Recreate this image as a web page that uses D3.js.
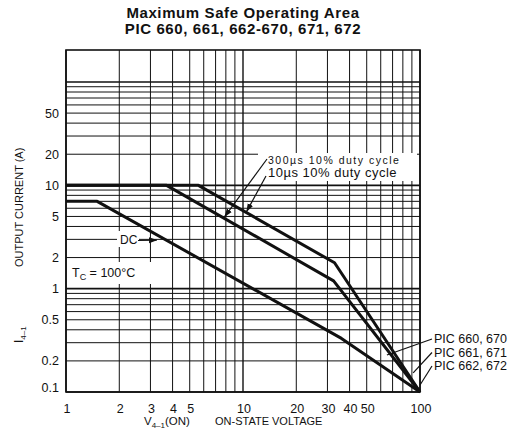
<!DOCTYPE html>
<html>
<head>
<meta charset="utf-8">
<script src="https://cdn.jsdelivr.net/npm/d3@7"></script>
<style>
  body { margin: 0; background: #fff; }
  svg { display: block; }
  text { font-family: "Liberation Sans", Arial, sans-serif; fill: #111; }
</style>
</head>
<body>
<svg id="chart" width="514" height="444"></svg>
<script>
// chart values
const titleLines = ["Maximum Safe Operating Area", "PIC 660, 661, 662-670, 671, 672"];
const xTickValues = [1, 2, 3, 4, 5, 10, 20, 30, 40, 50, 100];
const yTickValues = [0.1, 0.2, 0.5, 1, 2, 5, 10, 20, 50];

// DC and pulse limits (volts, amps)
const dcVolts = [1, 1.5, 36, 100];
const dcAmps = [7, 7, 0.33, 0.1];
const pulse300Volts = [1, 3.7, 32.5, 100];
const pulse300Amps = [10, 10, 1.19, 0.1];
const pulse10Volts = [1, 5.6, 32.9, 100];
const pulse10Amps = [10, 10, 1.78, 0.1];

const deviceLabels = ["PIC 660, 670", "PIC 661, 671", "PIC 662, 672"];
const deviceTargets = [[65, 0.228], [91.5, 0.153], [100, 0.117]];

// -------------------

const svg = d3.select("#chart");
const plotLeft = 66, plotRight = 420, plotTop = 50, plotBottom = 392;

const x = d3.scaleLog().domain([1, 100]).range([plotLeft, plotRight]);
const y = d3.scaleLog().domain([0.1, 100]).range([plotBottom, 82]);

const isDecade = v => Math.abs(Math.log10(v) - Math.round(Math.log10(v))) < 1e-6;

// arrow head for the leader lines
svg.append("defs").append("marker")
  .attr("id", "arrow")
  .attr("viewBox", "0 0 10 10")
  .attr("refX", 9).attr("refY", 5)
  .attr("markerWidth", 7).attr("markerHeight", 7)
  .attr("orient", "auto")
  .append("path")
  .attr("d", "M0,1.5 L10,5 L0,8.5 Z")
  .attr("fill", "#111");

// grid
const grid = svg.append("g").attr("stroke", "#111");

grid.selectAll("line.v")
  .data(x.ticks())
  .join("line")
  .attr("class", "v")
  .attr("x1", d => x(d)).attr("x2", d => x(d))
  .attr("y1", plotTop).attr("y2", plotBottom)
  .attr("stroke-width", d => isDecade(d) ? 1.4 : 1);

grid.selectAll("line.h")
  .data(y.ticks())
  .join("line")
  .attr("class", "h")
  .attr("x1", plotLeft).attr("x2", plotRight)
  .attr("y1", d => y(d)).attr("y2", d => y(d))
  .attr("stroke-width", d => isDecade(d) ? 1.6 : 1);

svg.append("rect")
  .attr("x", plotLeft).attr("y", plotTop)
  .attr("width", plotRight - plotLeft).attr("height", plotBottom - plotTop)
  .attr("fill", "none")
  .attr("stroke", "#111")
  .attr("stroke-width", 1.6);

// white patches behind the labels inside the grid
const patches = [
  [258, 153, 159, 28],  // pulse labels
  [68, 262, 85, 22],    // Tc
  [117, 231, 22, 16]    // DC
];
svg.append("g").selectAll("rect")
  .data(patches)
  .join("rect")
  .attr("x", d => d[0]).attr("y", d => d[1])
  .attr("width", d => d[2]).attr("height", d => d[3])
  .attr("fill", "#fff");

// curves
const line = d3.line()
  .x(d => x(d[0]))
  .y(d => y(d[1]));

const curves = [
  d3.zip(dcVolts, dcAmps),
  d3.zip(pulse300Volts, pulse300Amps),
  d3.zip(pulse10Volts, pulse10Amps)
];

svg.append("g").selectAll("path")
  .data(curves)
  .join("path")
  .attr("d", line)
  .attr("fill", "none")
  .attr("stroke", "#111")
  .attr("stroke-width", 3)
  .attr("stroke-linejoin", "round");

// tick labels
svg.append("g").selectAll("text")
  .data(yTickValues)
  .join("text")
  .attr("x", 59)
  .attr("y", d => y(d) + (d === 0.1 ? 0 : 4.5))
  .attr("text-anchor", "end")
  .style("font-size", "12.5px")
  .text(d => d);

svg.append("g").selectAll("text")
  .data(xTickValues)
  .join("text")
  .attr("x", d => x(d) + 1)
  .attr("y", 413)
  .attr("text-anchor", "middle")
  .style("font-size", "12.5px")
  .text(d => d);

// title
svg.append("g").selectAll("text")
  .data(titleLines)
  .join("text")
  .attr("x", 243)
  .attr("y", (d, i) => 18 + i * 15.5)
  .attr("text-anchor", "middle")
  .style("font-size", "15px")
  .style("letter-spacing", "0.6px")
  .style("font-weight", "bold")
  .text(d => d);

// axis titles
const xTitle = svg.append("text").attr("x", 144).attr("y", 425).style("font-size", "11.5px");
xTitle.append("tspan").text("V");
xTitle.append("tspan").attr("dy", 2.5).style("font-size", "8px").text("4\u20131");
xTitle.append("tspan").attr("dy", -2.5).text("(ON)");
svg.append("text").attr("x", 215).attr("y", 425).style("font-size", "11px").text("ON-STATE VOLTAGE");

svg.append("text")
  .attr("transform", "translate(23,267) rotate(-90)")
  .style("font-size", "11px")
  .text("OUTPUT CURRENT (A)");
const yTitle = svg.append("text")
  .attr("transform", "translate(23,343) rotate(-90)")
  .style("font-size", "12px");
yTitle.append("tspan").text("I");
yTitle.append("tspan").attr("dy", 3).style("font-size", "8px").text("4\u20131");

// annotations inside the plot
const tc = svg.append("text").attr("x", 72).attr("y", 277).style("font-size", "12.5px");
tc.append("tspan").text("T");
tc.append("tspan").attr("dy", 2.5).style("font-size", "9px").text("C");
tc.append("tspan").attr("dy", -2.5).text(" = 100°C");

svg.append("text").attr("x", 120).attr("y", 244).style("font-size", "12px").text("DC");

svg.append("text")
  .attr("x", 268).attr("y", 163.5)
  .style("font-size", "10.5px")
  .style("letter-spacing", "1.5px")
  .text("300µs 10% duty cycle");
svg.append("text")
  .attr("x", 268).attr("y", 177)
  .style("font-size", "13px")
  .style("letter-spacing", "0.5px")
  .text("10µs 10% duty cycle");

// leader lines: [start px, end in data units]
const leaders = [
  [[138, 240.5], [3.25, 2.95]],
  [[267, 159], [7.9, 5.0]],
  [[266, 176], [10.5, 5.6]]
];
svg.append("g").selectAll("line")
  .data(leaders)
  .join("line")
  .attr("x1", d => d[0][0]).attr("y1", d => d[0][1])
  .attr("x2", d => x(d[1][0])).attr("y2", d => y(d[1][1]))
  .attr("stroke", "#111")
  .attr("stroke-width", 1.2)
  .attr("marker-end", "url(#arrow)");

// device labels on the right
svg.append("g").selectAll("text")
  .data(deviceLabels)
  .join("text")
  .attr("x", 434)
  .attr("y", (d, i) => 343 + i * 13.5)
  .style("font-size", "12.5px")
  .text(d => d);

svg.append("g").selectAll("line")
  .data(deviceTargets)
  .join("line")
  .attr("x1", 432)
  .attr("y1", (d, i) => 339 + i * 13.5)
  .attr("x2", d => x(d[0]))
  .attr("y2", d => y(d[1]))
  .attr("stroke", "#111")
  .attr("stroke-width", 1.2);
</script>
</body>
</html>
